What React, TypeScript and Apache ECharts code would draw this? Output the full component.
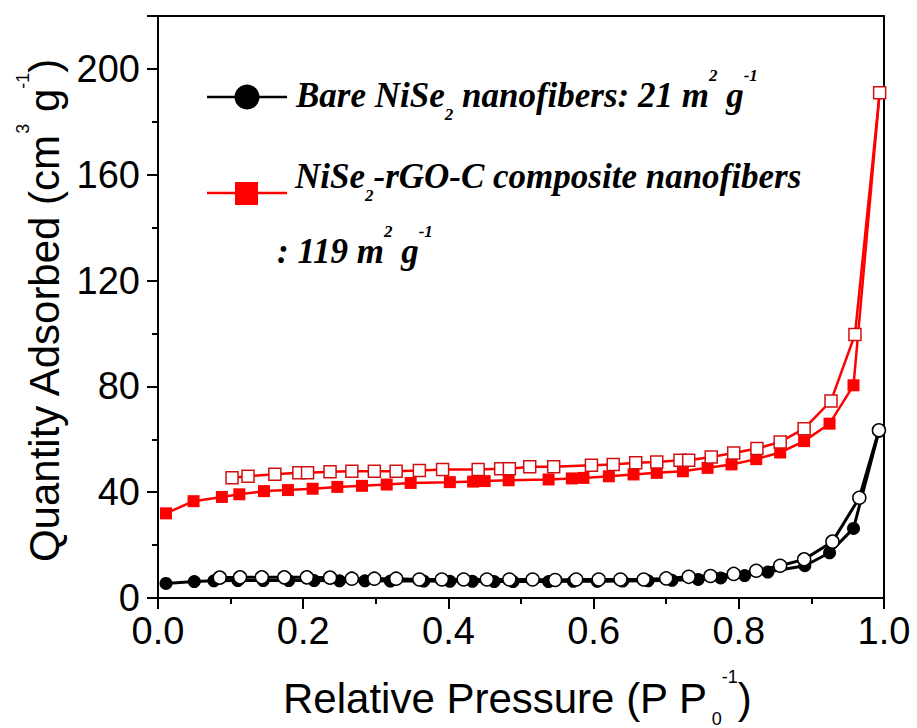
import { useEffect, useRef } from 'react';
import * as echarts from 'echarts';

// Bare NiSe2 nanofibers — adsorption (filled circles)
const bareAdsX = [0.011, 0.05, 0.077, 0.11, 0.145, 0.18, 0.215, 0.25, 0.285, 0.32, 0.366, 0.402, 0.433, 0.463, 0.489, 0.538, 0.572, 0.605, 0.64, 0.675, 0.708, 0.744, 0.775, 0.808, 0.84, 0.891, 0.925, 0.958, 0.993];
const bareAdsY = [5.5, 6.2, 6.5, 6.6, 6.6, 6.6, 6.6, 6.5, 6.5, 6.4, 6.4, 6.3, 6.3, 6.2, 6.2, 6.2, 6.3, 6.3, 6.4, 6.5, 6.7, 7.0, 7.6, 8.5, 9.8, 12.2, 17.1, 26.3, 63.0];
// Bare NiSe2 nanofibers — desorption (open circles)
const bareDesX = [0.085, 0.113, 0.143, 0.174, 0.205, 0.237, 0.267, 0.298, 0.328, 0.36, 0.391, 0.421, 0.453, 0.484, 0.516, 0.547, 0.576, 0.607, 0.637, 0.669, 0.7, 0.731, 0.761, 0.793, 0.824, 0.857, 0.89, 0.929, 0.966, 0.993];
const bareDesY = [7.7, 7.8, 7.8, 7.8, 7.8, 7.7, 7.3, 7.3, 7.3, 7.0, 7.0, 7.0, 7.0, 7.0, 7.0, 6.8, 7.0, 7.0, 7.0, 7.0, 7.4, 8.0, 8.3, 9.1, 10.3, 12.2, 14.6, 21.3, 37.9, 63.4];
// NiSe2-rGO-C composite — adsorption (filled squares)
const compAdsX = [0.011, 0.049, 0.088, 0.112, 0.146, 0.179, 0.213, 0.247, 0.281, 0.315, 0.348, 0.402, 0.434, 0.45, 0.483, 0.538, 0.57, 0.586, 0.621, 0.655, 0.687, 0.723, 0.757, 0.79, 0.824, 0.857, 0.89, 0.925, 0.958, 0.994];
const compAdsY = [32.0, 36.6, 38.2, 39.2, 40.4, 40.8, 41.3, 42.0, 42.4, 42.9, 43.5, 43.8, 44.0, 44.2, 44.5, 44.8, 45.2, 45.4, 46.0, 46.7, 47.3, 47.9, 49.2, 50.5, 52.5, 55.0, 59.3, 65.9, 80.4, 191.0];
// NiSe2-rGO-C composite — desorption (open squares)
const compDesX = [0.102, 0.124, 0.161, 0.194, 0.206, 0.237, 0.267, 0.298, 0.328, 0.36, 0.392, 0.441, 0.472, 0.484, 0.512, 0.545, 0.597, 0.627, 0.658, 0.687, 0.719, 0.731, 0.762, 0.793, 0.825, 0.857, 0.89, 0.927, 0.96, 0.994];
const compDesY = [45.5, 46.0, 46.8, 47.3, 47.3, 47.7, 47.9, 47.9, 47.9, 48.2, 48.6, 48.6, 48.9, 48.9, 49.6, 49.6, 50.2, 50.5, 51.1, 51.4, 52.1, 52.1, 53.3, 54.8, 56.5, 59.0, 64.0, 74.5, 99.6, 191.0];

const pair = (xs: number[], ys: number[]) => xs.map((x, i) => [x, ys[i]]);

const RED = '#ff0000';
const SANS = 'Liberation Sans, Arial, sans-serif';
const SERIF = 'Liberation Serif, Times New Roman, serif';

export default function App() {
  const ref = useRef<HTMLDivElement>(null);
  useEffect(() => {
    const chart = echarts.init(ref.current!, null, { renderer: 'svg' });

    const sf = { fontFamily: SERIF, fontWeight: 'bold', fontStyle: 'italic', fill: '#000' };
    const serifRich = {
      m: { ...sf, fontSize: 35, lineHeight: 56, verticalAlign: 'middle' },
      sub: { ...sf, fontSize: 17, lineHeight: 8, verticalAlign: 'bottom' },
      sup: { ...sf, fontSize: 17, lineHeight: 56, verticalAlign: 'top' },
      sup2: { ...sf, fontSize: 17, lineHeight: 42, verticalAlign: 'top' },
    };
    const sansRich = {
      m: { fontSize: 42, fontFamily: SANS, lineHeight: 60, fill: '#000', verticalAlign: 'middle' },
      sub: { fontSize: 18, fontFamily: SANS, lineHeight: 14, fill: '#000', verticalAlign: 'bottom', padding: [0, 0, 0, 4] },
      sup: { fontSize: 18, fontFamily: SANS, lineHeight: 2, fill: '#000', verticalAlign: 'top' },
    };

    const mkText = (x: number, y: number, text: string, rich: any, extra: any = {}) => ({
      type: 'text',
      x,
      y,
      silent: true,
      ...extra,
      style: {
        text,
        rich,
        fill: '#000',
        align: extra.align || 'left',
        textAlign: extra.align || 'left',
        verticalAlign: 'top',
        textVerticalAlign: 'top',
      },
    });

    const openSym = (color: string) => ({ color: '#fff', borderColor: color, borderWidth: 1.5 });

    chart.setOption({
      animation: false,
      backgroundColor: '#fff',
      grid: { left: 158, right: 33, top: 16, bottom: 130, containLabel: false },
      xAxis: [
        {
          type: 'value',
          min: 0,
          max: 1,
          interval: 0.2,
          axisLine: { show: true, onZero: false, lineStyle: { color: '#000', width: 2 } },
          axisTick: { show: true, inside: false, length: 11, lineStyle: { color: '#000', width: 2 } },
          minorTick: { show: true, splitNumber: 2, length: 6, lineStyle: { color: '#000', width: 2 } },
          splitLine: { show: false },
          axisLabel: {
            fontSize: 38,
            fontFamily: SANS,
            color: '#000',
            margin: 14,
            formatter: (v: number) => v.toFixed(1),
          },
        },
        {
          type: 'value',
          position: 'top',
          min: 0,
          max: 1,
          axisLine: { show: true, onZero: false, lineStyle: { color: '#000', width: 2 } },
          axisTick: { show: false },
          axisLabel: { show: false },
          splitLine: { show: false },
        },
      ],
      yAxis: [
        {
          type: 'value',
          min: 0,
          max: 220,
          interval: 40,
          axisLine: { show: true, onZero: false, lineStyle: { color: '#000', width: 2 } },
          axisTick: { show: true, inside: false, length: 11, lineStyle: { color: '#000', width: 2 } },
          minorTick: { show: true, splitNumber: 2, length: 6, lineStyle: { color: '#000', width: 2 } },
          splitLine: { show: false },
          axisLabel: {
            fontSize: 38,
            fontFamily: SANS,
            color: '#000',
            margin: 18,
            padding: [0, 0, 8, 0],
            showMaxLabel: false,
            formatter: (v: number) => (v > 200 ? '' : String(v)),
          },
        },
        {
          type: 'value',
          position: 'right',
          min: 0,
          max: 220,
          axisLine: { show: true, onZero: false, lineStyle: { color: '#000', width: 2 } },
          axisTick: { show: false },
          axisLabel: { show: false },
          splitLine: { show: false },
        },
      ],
      series: [
        {
          name: 'Bare NiSe2 adsorption',
          type: 'line',
          data: pair(bareAdsX, bareAdsY),
          symbol: 'circle',
          symbolSize: 13,
          itemStyle: { color: '#000' },
          lineStyle: { color: '#000', width: 3 },
          z: 2,
        },
        {
          name: 'Bare NiSe2 desorption',
          type: 'line',
          data: pair(bareDesX, bareDesY),
          symbol: 'circle',
          symbolSize: 13,
          itemStyle: openSym('#000'),
          lineStyle: { color: '#000', width: 3 },
          z: 3,
        },
        {
          name: 'NiSe2-rGO-C adsorption',
          type: 'line',
          data: pair(compAdsX, compAdsY),
          symbol: 'rect',
          symbolSize: 12,
          itemStyle: { color: RED },
          lineStyle: { color: RED, width: 2.5 },
          z: 4,
        },
        {
          name: 'NiSe2-rGO-C desorption',
          type: 'line',
          data: pair(compDesX, compDesY),
          symbol: 'rect',
          symbolSize: 12,
          itemStyle: openSym('#d01010'),
          lineStyle: { color: RED, width: 2.5 },
          z: 5,
        },
      ],
      graphic: [
        { type: 'line', shape: { x1: 207, y1: 97, x2: 287, y2: 97 }, style: { stroke: '#000', lineWidth: 2.5 }, silent: true },
        { type: 'circle', shape: { cx: 247, cy: 97, r: 12.5 }, style: { fill: '#000' }, silent: true },
        { type: 'line', shape: { x1: 207, y1: 193, x2: 287, y2: 193 }, style: { stroke: RED, lineWidth: 2.5 }, silent: true },
        { type: 'rect', shape: { x: 235, y: 182, width: 23, height: 23 }, style: { fill: RED }, silent: true },
        mkText(296, 67, '{m|Bare NiSe}{sub|2}{m| nanofibers: 21 m}{sup|2}{m| g}{sup2|-1}', serifRich),
        mkText(295, 148, '{m|NiSe}{sub|2}{m|-rGO-C composite nanofibers}', serifRich),
        mkText(277, 223, '{m|: 119 m}{sup|2}{m| g}{sup2|-1}', serifRich),
        mkText(283, 668, '{m|Relative Pressure (P P}{sub|0}{sup|-1}{m|)}', sansRich),
        mkText(14, 311, '{m|Quantity Adsorbed (cm}{sup|3}{m| g}{sup|-1}{m|)}', sansRich, { rotation: Math.PI / 2, align: 'center' }),
      ],
    });
    return () => chart.dispose();
  }, []);
  return <div ref={ref} style={{ position: 'fixed', left: 0, top: 0, width: 917, height: 728 }} />;
}
